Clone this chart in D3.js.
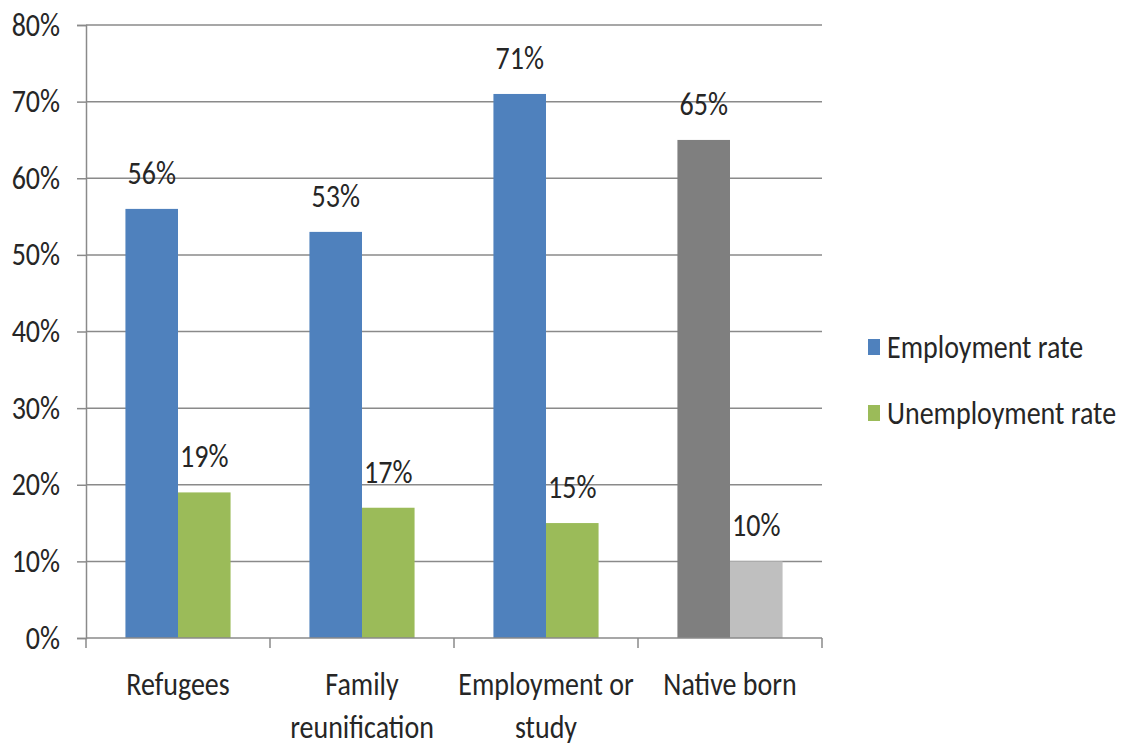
<!DOCTYPE html>
<html>
<head>
<meta charset="utf-8">
<script src="https://cdn.jsdelivr.net/npm/d3@7"></script>
<style>
  html, body { margin: 0; padding: 0; background: #fff; }
  svg text { font-family: Carlito, Lato, "Open Sans", sans-serif; fill: #262626; }
</style>
</head>
<body>
<svg id="chart" width="1126" height="749"></svg>
<script>
// Labour market outcomes by reason for migration
const categories = ["Refugees", "Family reunification", "Employment or study", "Native born"];
const categoryLines = [["Refugees"], ["Family", "reunification"], ["Employment or", "study"], ["Native born"]];
const seriesNames = ["Employment rate", "Unemployment rate"];
const employmentRate = [56, 53, 71, 65];
const unemploymentRate = [19, 17, 15, 10];
const yTicks = [0, 10, 20, 30, 40, 50, 60, 70, 80];

const seriesColors = ["#4F81BD", "#9BBB59"];
const nativeColors = ["#7F7F7F", "#BFBFBF"];

const FONT_SIZE = 28;
const STRETCH = 1.2;   // tall lettering
const AXIS_COLOR = "#8a8a8a";

const svg = d3.select("#chart");
const plot = { left: 86, right: 822, top: 25, bottom: 638 };

const x0 = d3.scaleBand().domain(categories).range([plot.left, plot.right]).paddingInner(0).paddingOuter(0);
const x1 = d3.scaleBand().domain(seriesNames).range([0, x0.bandwidth()]).paddingInner(0).paddingOuter(0.75);
const y = d3.scaleLinear().domain([0, 80]).range([plot.bottom, plot.top]);

// place a text at (tx, ty) with the tall lettering
function tallText(parent, tx, ty, str, anchor) {
  return parent.append("text")
    .attr("transform", `translate(${tx},${ty}) scale(1,${STRETCH})`)
    .attr("text-anchor", anchor || "start")
    .attr("font-size", FONT_SIZE)
    .text(str);
}

// horizontal gridlines
svg.append("g")
  .selectAll("line")
  .data(yTicks.filter(t => t > 0))
  .join("line")
  .attr("x1", plot.left).attr("x2", plot.right)
  .attr("y1", d => y(d)).attr("y2", d => y(d))
  .attr("stroke", AXIS_COLOR).attr("stroke-width", 1.5);

// y axis
const yAxis = svg.append("g")
  .attr("transform", `translate(${plot.left},0)`)
  .call(d3.axisLeft(y).tickValues(yTicks).tickFormat(d => d + "%").tickSize(9).tickPadding(17));
yAxis.select(".domain").attr("stroke", AXIS_COLOR).attr("stroke-width", 1.5);
yAxis.selectAll(".tick line").attr("stroke", AXIS_COLOR).attr("stroke-width", 1.5);
yAxis.selectAll(".tick text")
  .attr("font-size", FONT_SIZE)
  .attr("fill", "#262626")
  .attr("dy", "0.3em")
  .attr("transform", `scale(1,${STRETCH})`)
  .style("font-family", 'Carlito, Lato, "Open Sans", sans-serif');

// bars
const rows = categories.map((c, i) => ({
  category: c,
  values: [employmentRate[i], unemploymentRate[i]]
}));

const groups = svg.append("g").selectAll("g")
  .data(rows)
  .join("g")
  .attr("transform", d => `translate(${x0(d.category)},0)`);

groups.selectAll("rect")
  .data(d => d.values.map((v, s) => ({ v, s, native: d.category === "Native born" })))
  .join("rect")
  .attr("x", d => x1(seriesNames[d.s]))
  .attr("width", x1.bandwidth())
  .attr("y", d => y(d.v))
  .attr("height", d => y(0) - y(d.v))
  .attr("fill", d => d.native ? nativeColors[d.s] : seriesColors[d.s]);

// value labels above bars
groups.each(function (d) {
  const g = d3.select(this);
  d.values.forEach((v, s) => {
    tallText(g, x1(seriesNames[s]) + x1.bandwidth() / 2, y(v) - 25, v + "%", "middle");
  });
});

// x axis
const xAxisG = svg.append("g").attr("transform", `translate(0,${plot.bottom})`);
xAxisG.append("line")
  .attr("x1", plot.left).attr("x2", plot.right)
  .attr("stroke", AXIS_COLOR).attr("stroke-width", 1.5);
xAxisG.selectAll("line.tick")
  .data(categories.map(c => x0(c)).concat([plot.right]))
  .join("line")
  .attr("class", "tick")
  .attr("x1", d => d).attr("x2", d => d)
  .attr("y1", 0).attr("y2", 10)
  .attr("stroke", AXIS_COLOR).attr("stroke-width", 1.5);

categories.forEach((c, i) => {
  categoryLines[i].forEach((line, k) => {
    tallText(xAxisG, x0(c) + x0.bandwidth() / 2, 57 + k * 43, line, "middle");
  });
});

// legend
const legend = svg.append("g").attr("transform", "translate(868,0)");
const legendY = [347, 413];
seriesNames.forEach((name, i) => {
  legend.append("rect")
    .attr("x", 0).attr("y", legendY[i] - 8)
    .attr("width", 12).attr("height", 16)
    .attr("fill", seriesColors[i]);
  tallText(legend, 19, legendY[i] + 11, name, "start");
});
</script>
</body>
</html>
